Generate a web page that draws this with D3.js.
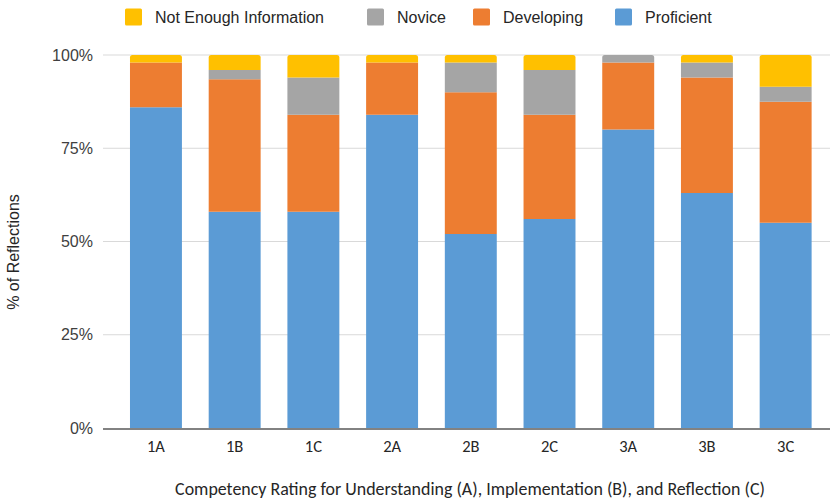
<!DOCTYPE html>
<html>
<head>
<meta charset="utf-8">
<script src="https://cdn.jsdelivr.net/npm/d3@7"></script>
<style>
  html, body { margin: 0; padding: 0; background: #fff; }
  svg { display: block; }
</style>
</head>
<body>
<svg id="chart" width="833" height="502"></svg>
<script>
// Competency ratings, share of reflections (%) per rating level
const categories = ["1A", "1B", "1C", "2A", "2B", "2C", "3A", "3B", "3C"];
const proficient = [86, 58, 58, 84, 52, 56, 80, 63, 55];
const developing = [12, 35.5, 26, 14, 38, 28, 18, 31, 32.5];
const novice     = [0, 2.5, 10, 0, 8, 12, 2, 4, 4];
const notEnough  = [2, 4, 6, 2, 2, 4, 0, 2, 8.5];
const yTicks = [0, 25, 50, 75, 100];

// stacking order, bottom to top
const seriesNames = ["Proficient", "Developing", "Novice", "Not Enough Information"];
const seriesValues = [proficient, developing, novice, notEnough];
const colors = {
  "Proficient": "#5B9BD5",
  "Developing": "#ED7D31",
  "Novice": "#A5A5A5",
  "Not Enough Information": "#FFC000"
};
const legendOrder = ["Not Enough Information", "Novice", "Developing", "Proficient"];

const rows = categories.map((c, i) => {
  const r = { cat: c };
  seriesNames.forEach((s, k) => { r[s] = seriesValues[k][i]; });
  return r;
});

const svg = d3.select("#chart");
const plotLeft = 103, plotRight = 830;

const x = d3.scaleBand()
  .domain(categories)
  .range([116.6, 825])
  .paddingInner(0.34)
  .paddingOuter(0.17);

const y = d3.scaleLinear().domain([0, 100]).range([428, 55]);

// horizontal gridlines
svg.append("g")
  .selectAll("line")
  .data(yTicks.filter(t => t > 0))
  .join("line")
  .attr("x1", plotLeft).attr("x2", plotRight)
  .attr("y1", d => y(d)).attr("y2", d => y(d))
  .attr("stroke", "#d9d9d9").attr("stroke-width", 1.2);

// y tick labels
svg.append("g")
  .selectAll("text")
  .data(yTicks)
  .join("text")
  .attr("x", 93)
  .attr("y", d => y(d))
  .attr("dy", "0.35em")
  .attr("text-anchor", "end")
  .attr("font-family", "'Liberation Sans', Arial, sans-serif")
  .attr("font-size", 16)
  .attr("fill", "#404040")
  .text(d => d + "%");

// stacked bars
const stack = d3.stack().keys(seriesNames)(rows);
const topKey = rows.map(r => {
  let k = null;
  seriesNames.forEach(s => { if (r[s] > 0) k = s; });
  return k;
});

function segPath(x0, y0, w, y1, rounded) {
  const h = y0 - y1;
  const r = rounded ? Math.min(2.5, h / 2) : 0;
  return `M${x0},${y0}V${y1 + r}Q${x0},${y1} ${x0 + r},${y1}H${x0 + w - r}Q${x0 + w},${y1} ${x0 + w},${y1 + r}V${y0}Z`;
}

svg.append("g")
  .selectAll("g")
  .data(stack)
  .join("g")
  .attr("fill", d => colors[d.key])
  .each(function (layer) {
    d3.select(this).selectAll("path")
      .data(layer.filter(d => d[1] - d[0] > 0))
      .join("path")
      .attr("d", d => {
        const i = categories.indexOf(d.data.cat);
        return segPath(x(d.data.cat), y(d[0]), x.bandwidth(), y(d[1]), topKey[i] === layer.key);
      });
  });

// baseline
svg.append("line")
  .attr("x1", plotLeft).attr("x2", plotRight)
  .attr("y1", 429).attr("y2", 429)
  .attr("stroke", "#595959").attr("stroke-width", 1.5);

// x tick labels
svg.append("g")
  .selectAll("text")
  .data(categories)
  .join("text")
  .attr("x", d => x(d) + x.bandwidth() / 2)
  .attr("y", 452)
  .attr("text-anchor", "middle")
  .attr("font-family", "Carlito, Lato, sans-serif")
  .attr("font-size", 16.5)
  .attr("fill", "#262626")
  .text(d => d);

// x axis title
const xTitle = svg.append("text")
  .attr("x", 470)
  .attr("y", 495)
  .attr("text-anchor", "middle")
  .attr("font-family", "Carlito, Lato, sans-serif")
  .attr("font-size", 16)
  .attr("fill", "#262626")
  .text("Competency Rating for Understanding (A), Implementation (B), and Reflection (C)");
const tw = xTitle.node().getComputedTextLength();
xTitle.attr("font-size", 16 * 590 / tw);

// y axis title
svg.append("text")
  .attr("transform", "translate(19,252) rotate(-90)")
  .attr("text-anchor", "middle")
  .attr("font-family", "'Liberation Sans', Arial, sans-serif")
  .attr("font-size", 16)
  .attr("fill", "#262626")
  .text("% of Reflections");

// legend
const legendX = { "Not Enough Information": 125, "Novice": 367, "Developing": 473, "Proficient": 615 };
const lg = svg.append("g")
  .selectAll("g")
  .data(legendOrder)
  .join("g")
  .attr("transform", d => `translate(${legendX[d]},0)`);
lg.append("rect")
  .attr("x", 0).attr("y", 8.5)
  .attr("width", 17).attr("height", 17)
  .attr("rx", 1.5)
  .attr("fill", d => colors[d]);
lg.append("text")
  .attr("x", 30).attr("y", 22.7)
  .attr("font-family", "'Liberation Sans', Arial, sans-serif")
  .attr("font-size", 16)
  .attr("fill", "#262626")
  .text(d => d);
</script>
</body>
</html>
